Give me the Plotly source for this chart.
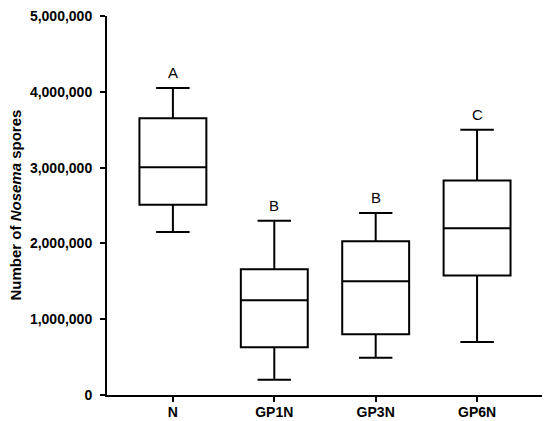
import plotly.graph_objects as go

# groups and summary stats (spore counts)
groups = ["N", "GP1N", "GP3N", "GP6N"]
lower_whisker = [2150000, 200000, 490000, 700000]
q1_vals = [2510000, 630000, 800000, 1575000]
median_vals = [3005000, 1250000, 1500000, 2200000]
q3_vals = [3650000, 1660000, 2030000, 2830000]
upper_whisker = [4050000, 2300000, 2400000, 3500000]
letters = ["A", "B", "B", "C"]
y_ticks = [0, 1000000, 2000000, 3000000, 4000000, 5000000]

FONT = "Liberation Sans, Arial, sans-serif"

fig = go.Figure()
fig.add_trace(go.Box(
    x=groups,
    q1=q1_vals,
    median=median_vals,
    q3=q3_vals,
    lowerfence=lower_whisker,
    upperfence=upper_whisker,
    boxpoints=False,
    width=0.66,
    whiskerwidth=0.5,
    fillcolor="white",
    line=dict(color="black", width=2),
    hoverinfo="skip",
    showlegend=False,
))

# significance letters over each whisker
for g, top, lab in zip(groups, upper_whisker, letters):
    fig.add_annotation(x=g, y=top, text=lab, showarrow=False,
                       yanchor="middle", yshift=15.5,
                       font=dict(family=FONT, size=15, color="black"))

# y title as an annotation so it can sit right at the left edge
fig.add_annotation(xref="paper", yref="paper", x=0, y=0.5,
                   xanchor="center", yanchor="middle", xshift=-92,
                   textangle=-90, showarrow=False,
                   text="<b>Number of <i>Nosema</i> spores</b>",
                   font=dict(family=FONT, size=15, color="black"))

# page body has an 8px margin, so the figure is a bit smaller than the window
fig.update_layout(
    width=542, height=413,
    margin=dict(l=99, r=5, t=8, b=26),
    plot_bgcolor="white", paper_bgcolor="white",
    font=dict(family=FONT, color="black"),
)
fig.update_xaxes(
    range=[-0.65, 3.67], automargin=False,
    showline=True, linecolor="black", linewidth=2,
    ticks="outside", ticklen=5, tickwidth=2, tickcolor="black",
    ticklabelstandoff=-2,
    tickfont=dict(family=FONT, size=14, weight="bold"),
    showgrid=False, zeroline=False,
)
fig.update_yaxes(
    range=[0, 5000000], automargin=False,
    tickvals=y_ticks,
    tickformat=",d",
    showline=True, linecolor="black", linewidth=2,
    ticks="outside", ticklen=5, tickwidth=2, tickcolor="black",
    ticklabelstandoff=5, ticklabeloverflow="allow",
    tickfont=dict(family=FONT, size=14, weight="bold"),
    showgrid=False, zeroline=False,
)

fig.write_html("out.html")
